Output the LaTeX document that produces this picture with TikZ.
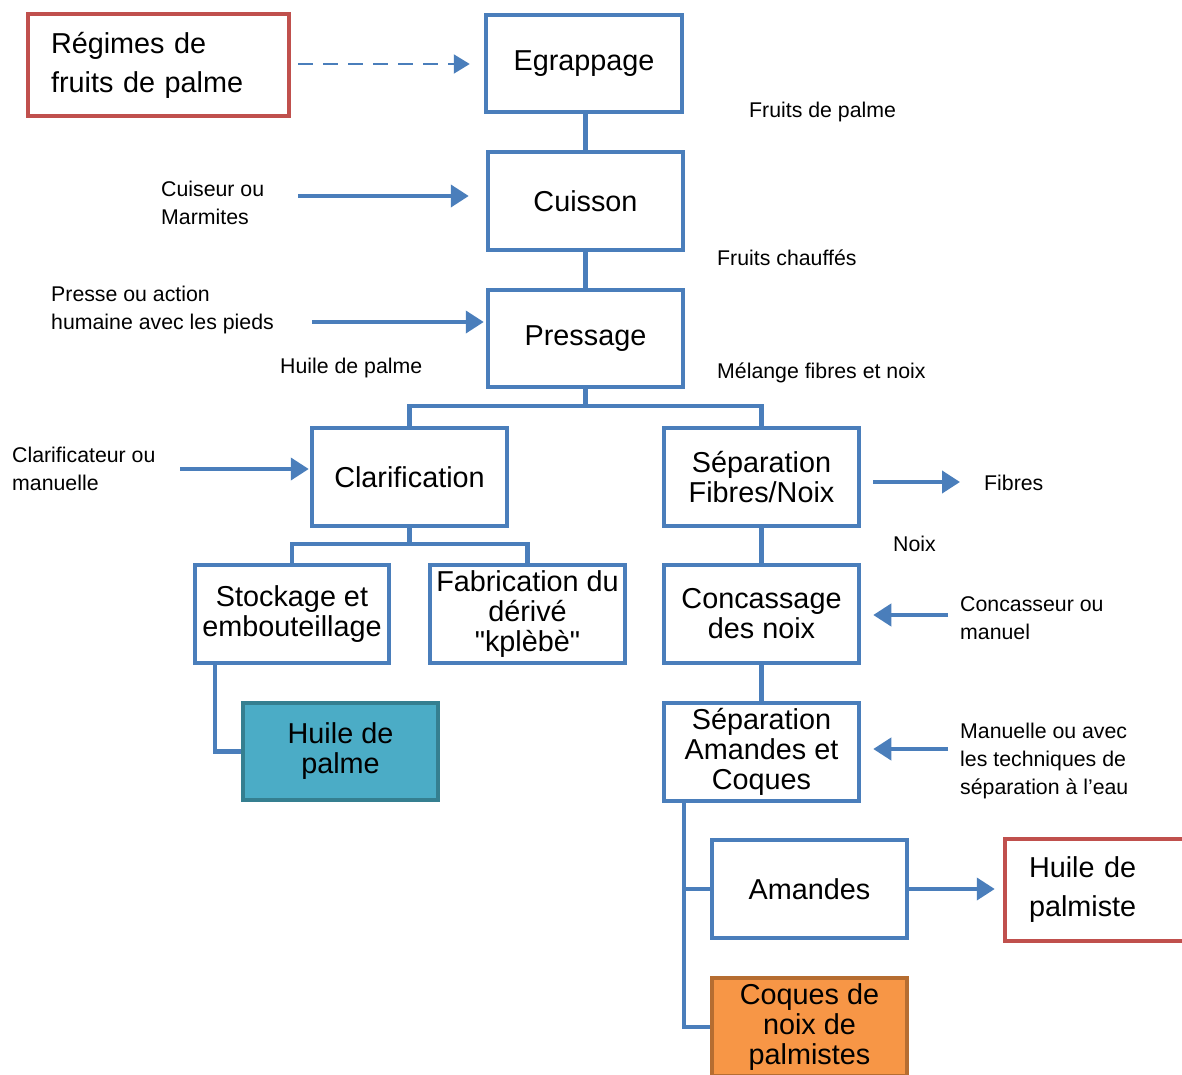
\documentclass[tikz,border=0pt]{standalone}
\usepackage{fontspec}
\setmainfont{Liberation Sans}
\newfontfamily\qfont{Liberation Sans}
\usetikzlibrary{arrows.meta}
\definecolor{bblue}{HTML}{4A7EBB}
\definecolor{bred}{HTML}{C0504D}
\definecolor{tealfill}{HTML}{4BACC6}
\definecolor{tealline}{HTML}{357F90}
\definecolor{orfill}{HTML}{F79646}
\definecolor{orline}{HTML}{B66D31}
\tikzset{
  boxstyle/.style={draw=bblue, line width=4.5pt, fill=white, inner sep=0pt, align=center,
    font=\fontsize{28.8}{30}\selectfont},
  redbox/.style={boxstyle, draw=bred, font=\fontsize{28.8}{39}\selectfont},
  tealbox/.style={boxstyle, draw=tealline, fill=tealfill},
  orbox/.style={boxstyle, draw=orline, fill=orfill},
  conn/.style={draw=bblue, line width=4.5pt},
  arr/.style={draw=bblue, line width=4pt, -{Triangle[length=18pt,width=22pt]}},
  darr/.style={draw=bblue, line width=2pt, dash pattern=on 15pt off 10pt, -{Triangle[length=16pt,width=19pt]}},
  lbl/.style={inner sep=0pt, align=left, anchor=west, font=\fontsize{21.3}{28}\selectfont}
}
\begin{document}
\begin{tikzpicture}[x=1pt,y=-1pt]
\useasboundingbox (0,0) rectangle (1182,1075);
\clip (0,0) rectangle (1182,1075);
% boxes
\node[redbox, minimum width=261pt, minimum height=102pt, text width=215pt, align=left] (reg) at (158.5,65) {Régimes de\\fruits de palme};
\node[boxstyle, minimum width=196pt, minimum height=97pt] (egr) at (584,63.5) {Egrappage};
\node[boxstyle, minimum width=195pt, minimum height=98pt] (cui) at (585.5,201) {Cuisson};
\node[boxstyle, minimum width=195pt, minimum height=97pt] (pre) at (585.5,338.5) {Pressage};
\node[boxstyle, minimum width=195pt, minimum height=98pt] (cla) at (409.5,477) {Clarification};
\node[boxstyle, minimum width=195pt, minimum height=98pt] (sfn) at (761.5,477) {Séparation\\Fibres/Noix};
\node[boxstyle, minimum width=194pt, minimum height=98pt] (sto) at (292,614) {Stockage et\\embouteillage};
\node[boxstyle, minimum width=195pt, minimum height=98pt] (fab) at (527.5,614) {Fabrication du\\dérivé\\{\qfont"}kplèbè{\qfont"}};
\node[tealbox, minimum width=195pt, minimum height=97pt] (hpa) at (340.5,751.5) {Huile de\\palme};
\node[boxstyle, minimum width=195pt, minimum height=98pt] (con) at (761.5,614) {Concassage\\des noix};
\node[boxstyle, minimum width=195pt, minimum height=98pt] (sac) at (761.5,752) {Séparation\\Amandes et\\Coques};
\node[boxstyle, minimum width=195pt, minimum height=98pt] (ama) at (809.5,889) {Amandes};
\node[redbox, minimum width=185pt, minimum height=102pt, text width=137pt, align=left] (hpm) at (1097.5,890) {Huile de\\palmiste};
\node[orbox, minimum width=195pt, minimum height=98pt] (coq) at (809.5,1027) {Coques de\\noix de\\palmistes};
% connectors
\draw[conn] (egr.south -| cui.north) -- (cui.north);
\draw[conn] (cui.south) -- (pre.north);
\draw[conn] (pre.south) -- ++(0,19);
\draw[conn] (cla.north) -- ++(0,-20) -| (sfn.north);
\draw[conn] (cla.south) -- ++(0,18);
\draw[conn] (sto.north) -- ++(0,-19) -| (fab.north);
\draw[conn] ([xshift=-77pt]sto.south) |- (hpa.west);
\draw[conn] (sfn.south) -- (con.north);
\draw[conn] (con.south) -- (sac.north);
\draw[conn] ([xshift=-77.5pt]sac.south) |- (ama.west);
\draw[conn] ([xshift=-77.5pt]sac.south) |- (coq.west);
% arrows
\coordinate (dstart) at (298,64);
\draw[darr, shorten >=14pt] (dstart) -- (dstart -| egr.west);
\coordinate (a1) at (298,196);
\draw[arr, shorten >=17pt] (a1) -- (a1 -| cui.west);
\coordinate (a2) at (312,322);
\draw[arr, shorten >=2pt] (a2) -- (a2 -| pre.west);
\coordinate (a3) at (180,469);
\draw[arr, shorten >=1pt] (a3) -- (a3 -| cla.west);
\coordinate (a4) at (960,482);
\draw[arr, shorten <=12pt] (a4 -| sfn.east) -- (a4);
\coordinate (a5) at (948,615);
\draw[arr, shorten >=12pt] (a5) -- (a5 -| con.east);
\coordinate (a6) at (948,749);
\draw[arr, shorten >=12pt] (a6) -- (a6 -| sac.east);
\draw[arr, shorten >=8pt] (ama.east) -- (ama.east -| hpm.west);
% labels
\node[lbl] (l1) at (749,112) {Fruits de palme};
\node[lbl] (l2) at (161,202.5) {Cuiseur ou\\Marmites};
\node[lbl] (l3) at (717,258) {Fruits chauffés};
\node[lbl] (l4) at (51,309.5) {Presse ou action\\humaine avec les pieds};
\node[lbl] (l5) at (280,368) {Huile de palme};
\node[lbl] (l6) at (717,373) {Mélange fibres et noix};
\node[lbl] (l7) at (12,468.5) {Clarificateur ou\\manuelle};
\node[lbl] (l8) at (984,483) {Fibres};
\node[lbl] (l9) at (893,544) {Noix};
\node[lbl] (l10) at (960,618.5) {Concasseur ou\\manuel};
\node[lbl] (l11) at (960,761) {Manuelle ou avec\\les techniques de\\séparation à l’eau};
\end{tikzpicture}
\end{document}
